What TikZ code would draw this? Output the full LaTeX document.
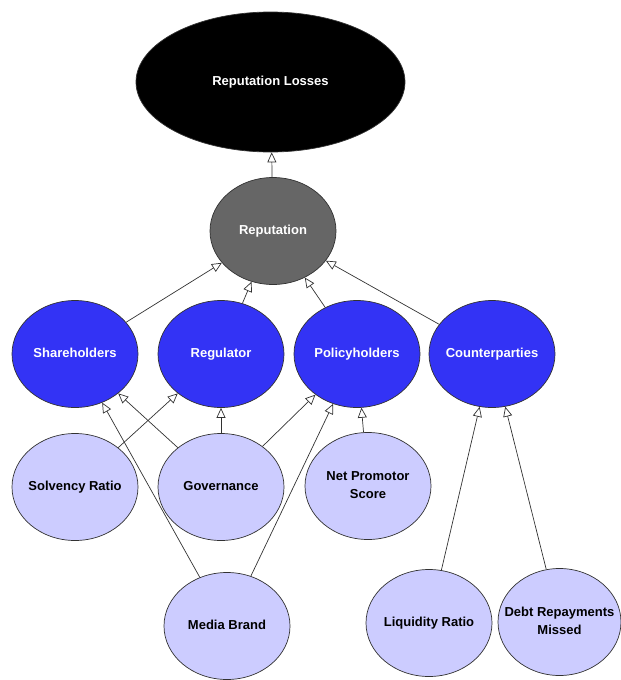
\documentclass[tikz,border=0pt]{standalone}
\usepackage{fontspec}
\setmainfont{Liberation Sans}
\usetikzlibrary{shapes.geometric,arrows.meta}
\definecolor{nodeblue}{RGB}{51,51,245}
\definecolor{lav}{RGB}{204,204,255}
\definecolor{repgray}{RGB}{102,102,102}
\definecolor{edgecol}{RGB}{50,50,50}
\newcommand\nlbl[1]{\makebox[0pt]{\begin{tabular}{@{}c@{}}#1\end{tabular}}}
\tikzset{
  base/.style={ellipse, draw=edgecol, line width=0.7pt, inner sep=0pt,
    minimum width=126pt, minimum height=107pt, font=\bfseries\fontsize{13}{18.5}\selectfont},
  topnode/.style={base, fill=black, text=white, minimum width=269pt, minimum height=140pt},
  repnode/.style={base, fill=repgray, text=white},
  midnode/.style={base, fill=nodeblue, text=white},
  lownode/.style={base, fill=lav, text=black},
  arr/.style={draw=edgecol, line width=0.7pt, -{Triangle[open,length=10pt,width=9pt]}}
}
\begin{document}
\begin{tikzpicture}[x=1pt,y=-1pt]
\useasboundingbox (0,0) rectangle (621,680);
\node[topnode] (loss) at (270.5,82) {\nlbl{Reputation Losses}};
\node[repnode] (rep) at (273,231) {\nlbl{Reputation}};
\node[midnode] (sh) at (75,354) {\nlbl{Shareholders}};
\node[midnode] (reg) at (221,354) {\nlbl{Regulator}};
\node[midnode] (pol) at (357,354) {\nlbl{Policyholders}};
\node[midnode] (cp) at (492,354) {\nlbl{Counterparties}};
\node[lownode] (solv) at (75,487) {\nlbl{Solvency Ratio}};
\node[lownode] (gov) at (221,487) {\nlbl{Governance}};
\node[lownode] (nps) at (368,486) {\nlbl{Net Promotor\\Score}};
\node[lownode] (media) at (227,626) {\nlbl{Media Brand}};
\node[lownode] (liq) at (429,623) {\nlbl{Liquidity Ratio}};
\node[lownode, minimum width=123pt] (debt) at (559.5,622) {\nlbl{Debt Repayments\\Missed}};
\draw[arr] (rep) -- (loss);
\draw[arr] (sh) -- (rep);
\draw[arr] (reg) -- (rep);
\draw[arr] (pol) -- (rep);
\draw[arr] (cp) -- (rep);
\draw[arr] (solv) -- (reg);
\draw[arr] (gov) -- (sh);
\draw[arr] (gov) -- (reg);
\draw[arr] (gov) -- (pol);
\draw[arr] (media) -- (sh);
\draw[arr] (media) -- (pol);
\draw[arr] (nps) -- (pol);
\draw[arr] (liq) -- (cp);
\draw[arr] (debt) -- (cp);
\end{tikzpicture}
\end{document}
